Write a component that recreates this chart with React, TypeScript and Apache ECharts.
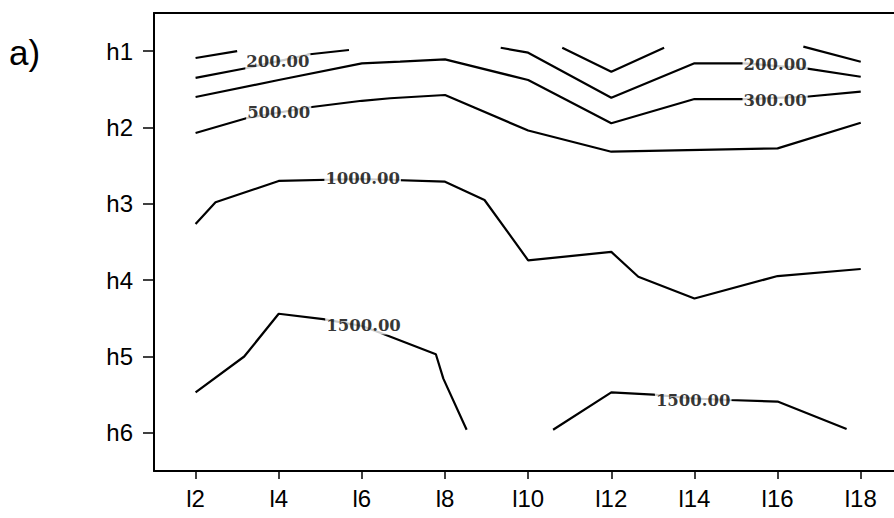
import React, { useEffect, useRef } from "react";
import * as echarts from "echarts";

// Axis ticks and labels
const xTicks = [2, 4, 6, 8, 10, 12, 14, 16, 18];
const xTickLabels = ["l2", "l4", "l6", "l8", "l10", "l12", "l14", "l16", "l18"];
const yTicks = [1, 2, 3, 4, 5, 6];
const yTickLabels = ["h1", "h2", "h3", "h4", "h5", "h6"];

// Contour polylines: [l-position, h-position]
const c100a = [[2.0, 1.09], [3.0, 1.0]];
const c100b = [[10.82, 0.955], [12.0, 1.27], [13.27, 0.955]];
const c100c = [[16.62, 0.94], [18.0, 1.138]];
const c200a = [[2.0, 1.35], [3.24, 1.22], [4.0, 1.13], [4.75, 1.04], [5.69, 0.985]];
const c200b = [[9.34, 0.955], [10.0, 1.02], [12.0, 1.61], [14.0, 1.159], [15.19, 1.159], [16.68, 1.225], [18.0, 1.335]];
const c300 = [[2.0, 1.6], [4.0, 1.378], [6.0, 1.159], [6.92, 1.138], [8.0, 1.107], [10.0, 1.378], [12.0, 1.945], [14.0, 1.627], [15.19, 1.627], [16.68, 1.597], [18.0, 1.531]];
const c500 = [[2.0, 2.072], [3.24, 1.876], [4.75, 1.735], [6.0, 1.65], [6.68, 1.617], [8.0, 1.574], [10.0, 2.04], [12.0, 2.317], [16.0, 2.273], [18.0, 1.937]];
const c1000 = [[2.0, 3.264], [2.48, 2.98], [4.0, 2.7], [6.0, 2.675], [8.0, 2.71], [8.95, 2.95], [10.0, 3.74], [12.0, 3.63], [12.65, 3.955], [14.0, 4.24], [16.0, 3.946], [18.0, 3.854]];
const c1500a = [[2.0, 5.47], [3.17, 5.0], [4.0, 4.44], [5.07, 4.51], [6.0, 4.6], [6.44, 4.69], [7.78, 4.97], [7.96, 5.29], [8.52, 5.96]];
const c1500b = [[10.6, 5.96], [12.0, 5.47], [13.01, 5.5], [14.0, 5.55], [14.82, 5.57], [16.0, 5.59], [17.66, 5.95]];

// Contour labels: [l-position, h-position, text]
const contourLabels: [number, number, string][] = [
  [3.98, 1.14, "200.00"],
  [4.0, 1.8, "500.00"],
  [15.94, 1.18, "200.00"],
  [15.94, 1.64, "300.00"],
  [6.02, 2.666, "1000.00"],
  [6.04, 4.6, "1500.00"],
  [13.97, 5.57, "1500.00"],
];

const contours = [c100a, c100b, c100c, c200a, c200b, c300, c500, c1000, c1500a, c1500b];

export default function App() {
  const ref = useRef<HTMLDivElement>(null);
  useEffect(() => {
    document.body.style.margin = "0";
    const chart = echarts.init(ref.current!, null, { renderer: "svg" });
    const axisFont = "'Liberation Sans', Arial, Helvetica, sans-serif";
    const option: any = {
      animation: false,
      backgroundColor: "#fff",
      grid: { left: 154, right: 0, top: 13, bottom: 47 },
      graphic: [
        {
          type: "text",
          left: 9,
          top: 35,
          style: { text: "a)", fontSize: 35, fontFamily: axisFont, fill: "#000" },
        },
      ],
      xAxis: [
        {
          type: "value",
          min: 1,
          max: 18.8,
          position: "bottom",
          axisLine: { show: true, onZero: false, lineStyle: { color: "#000", width: 2 } },
          axisTick: { show: true, customValues: xTicks, length: 8, lineStyle: { color: "#000", width: 1.5 } },
          axisLabel: {
            customValues: xTicks,
            formatter: (v: number) => xTickLabels[xTicks.indexOf(v)] ?? "",
            fontSize: 24,
            fontFamily: axisFont,
            color: "#000",
            margin: 15,
          },
          splitLine: { show: false },
        },
        {
          type: "value",
          min: 1,
          max: 18.8,
          position: "top",
          axisLine: { show: true, onZero: false, lineStyle: { color: "#000", width: 2 } },
          axisTick: { show: false },
          axisLabel: { show: false },
          splitLine: { show: false },
        },
      ],
      yAxis: {
        type: "value",
        inverse: true,
        min: 0.5,
        max: 6.5,
        axisLine: { show: true, onZero: false, lineStyle: { color: "#000", width: 2 } },
        axisTick: { show: true, customValues: yTicks, length: 11, lineStyle: { color: "#000", width: 1.5 } },
        axisLabel: {
          customValues: yTicks,
          formatter: (v: number) => yTickLabels[yTicks.indexOf(v)] ?? "",
          fontSize: 24,
          fontFamily: axisFont,
          color: "#000",
          margin: 21,
        },
        splitLine: { show: false },
      },
      series: [
        ...contours.map((d) => ({
          type: "line",
          data: d,
          symbol: "none",
          silent: true,
          lineStyle: { color: "#000", width: 2.2 },
          z: 2,
        })),
        {
          type: "scatter",
          data: contourLabels,
          symbolSize: 0,
          silent: true,
          z: 5,
          label: {
            show: true,
            position: "inside",
            formatter: (p: any) => p.data[2],
            fontFamily: "'DejaVu Serif', serif",
            fontWeight: "bold",
            fontSize: 16.5,
            color: "#000",
            textBorderWidth: 0,
            backgroundColor: "#fff",
            padding: [0, 1],
          },
        },
      ],
    };
    chart.setOption(option);
    return () => chart.dispose();
  }, []);
  return <div ref={ref} style={{ position: "fixed", left: 0, top: 0, width: 894, height: 518 }} />;
}
